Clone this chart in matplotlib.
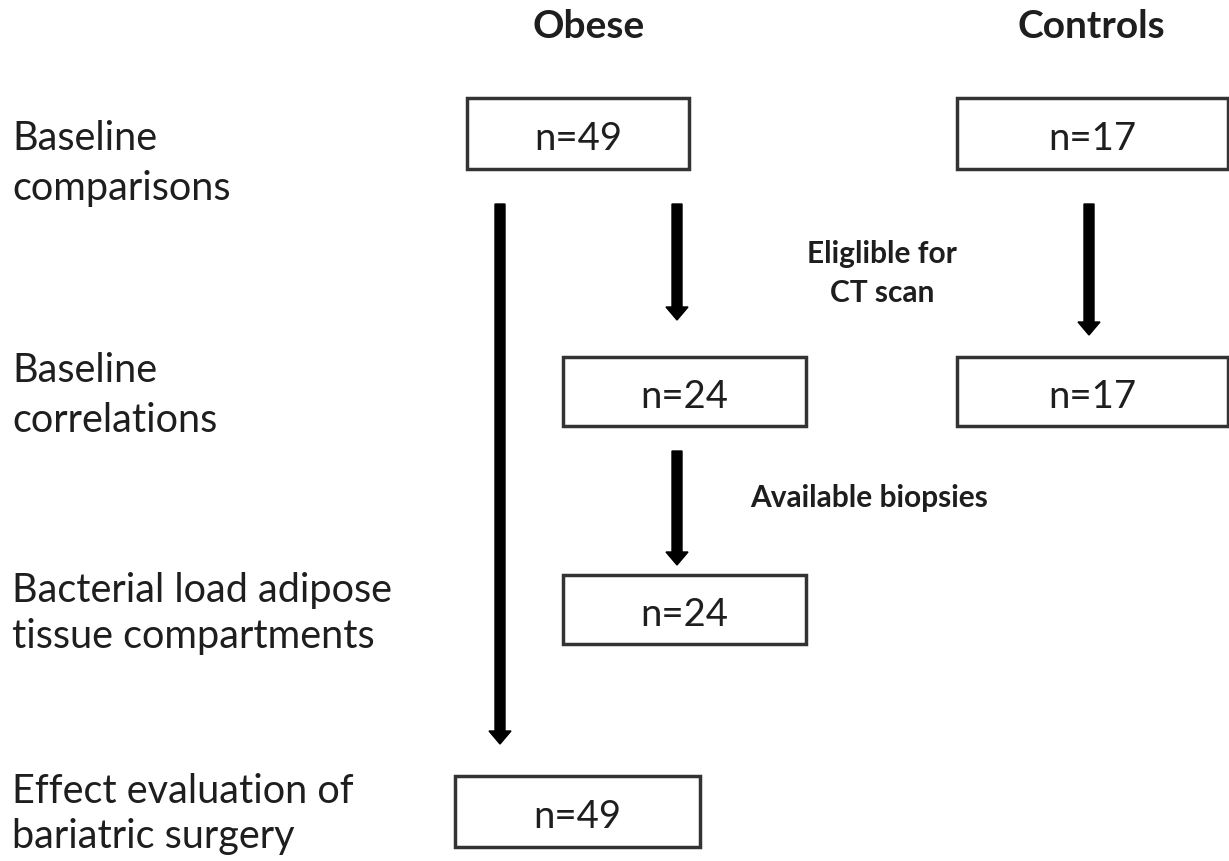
from matplotlib import pyplot as plt

# group headers and row labels (one entry per text line)
groups = ['Obese', 'Controls']
row_labels = [['Baseline', 'comparisons'],
              ['Baseline', 'correlations'],
              ['Bacterial load adipose', 'tissue compartments'],
              ['Effect evaluation of', 'bariatric surgery']]
box_counts = [49, 17, 24, 17, 24, 49]
step_labels = [['Eliglible for', 'CT scan'], ['Available biopsies']]

FONT = 'Lato'
TXT = '#1e1e1e'

fig = plt.figure(figsize=(12.29, 8.62), dpi=100)
ax = fig.add_axes([0, 0, 1, 1])
ax.set_xlim(0, 1229)
ax.set_ylim(862, 0)
ax.axis('off')

# column headers
ax.text(589, 38, groups[0], fontsize=28, fontweight='bold', ha='center', va='baseline', family=FONT, color=TXT)
ax.text(1091, 38, groups[1], fontsize=28, fontweight='bold', ha='center', va='baseline', family=FONT, color=TXT)

# row labels on the left
baselines = [(150, 200), (382, 432), (602, 648), (803, 848)]
for lines, ys in zip(row_labels, baselines):
    for line, y in zip(lines, ys):
        ax.text(12, y, line, fontsize=28.5, ha='left', va='baseline', family=FONT, color=TXT)

# boxes
boxes = [(467, 99, 689, 170), (957, 99, 1228, 170),
         (563, 358, 806, 427), (957, 358, 1228, 427),
         (563, 576, 806, 645), (455, 777, 700, 848)]
for n, (x0, y0, x1, y1) in zip(box_counts, boxes):
    ax.add_patch(plt.Rectangle((x0, y0), x1 - x0, y1 - y0, edgecolor='#333333', facecolor='none', lw=2.5))
    ax.text((x0 + x1) / 2, (y0 + y1) / 2 + 16, 'n=%d' % n, fontsize=27.5, ha='center',
            va='baseline', family=FONT, color=TXT)

# arrows
arrows = [(500, 205, 745), (677, 205, 321), (1089, 205, 336), (677, 452, 566)]
for x, y0, y1 in arrows:
    ax.arrow(x, y0, 0, y1 - y0, width=10, head_width=22, head_length=13,
             length_includes_head=True, color='black')

# step labels
for line, y in zip(step_labels[0], [263, 302]):
    ax.text(882, y, line, fontsize=21.5, fontweight='bold', ha='center', va='baseline', family=FONT, color=TXT)
ax.text(869, 507, step_labels[1][0], fontsize=21.5, fontweight='bold', ha='center', va='baseline', family=FONT, color=TXT)

fig.savefig('out.png', dpi=100)
